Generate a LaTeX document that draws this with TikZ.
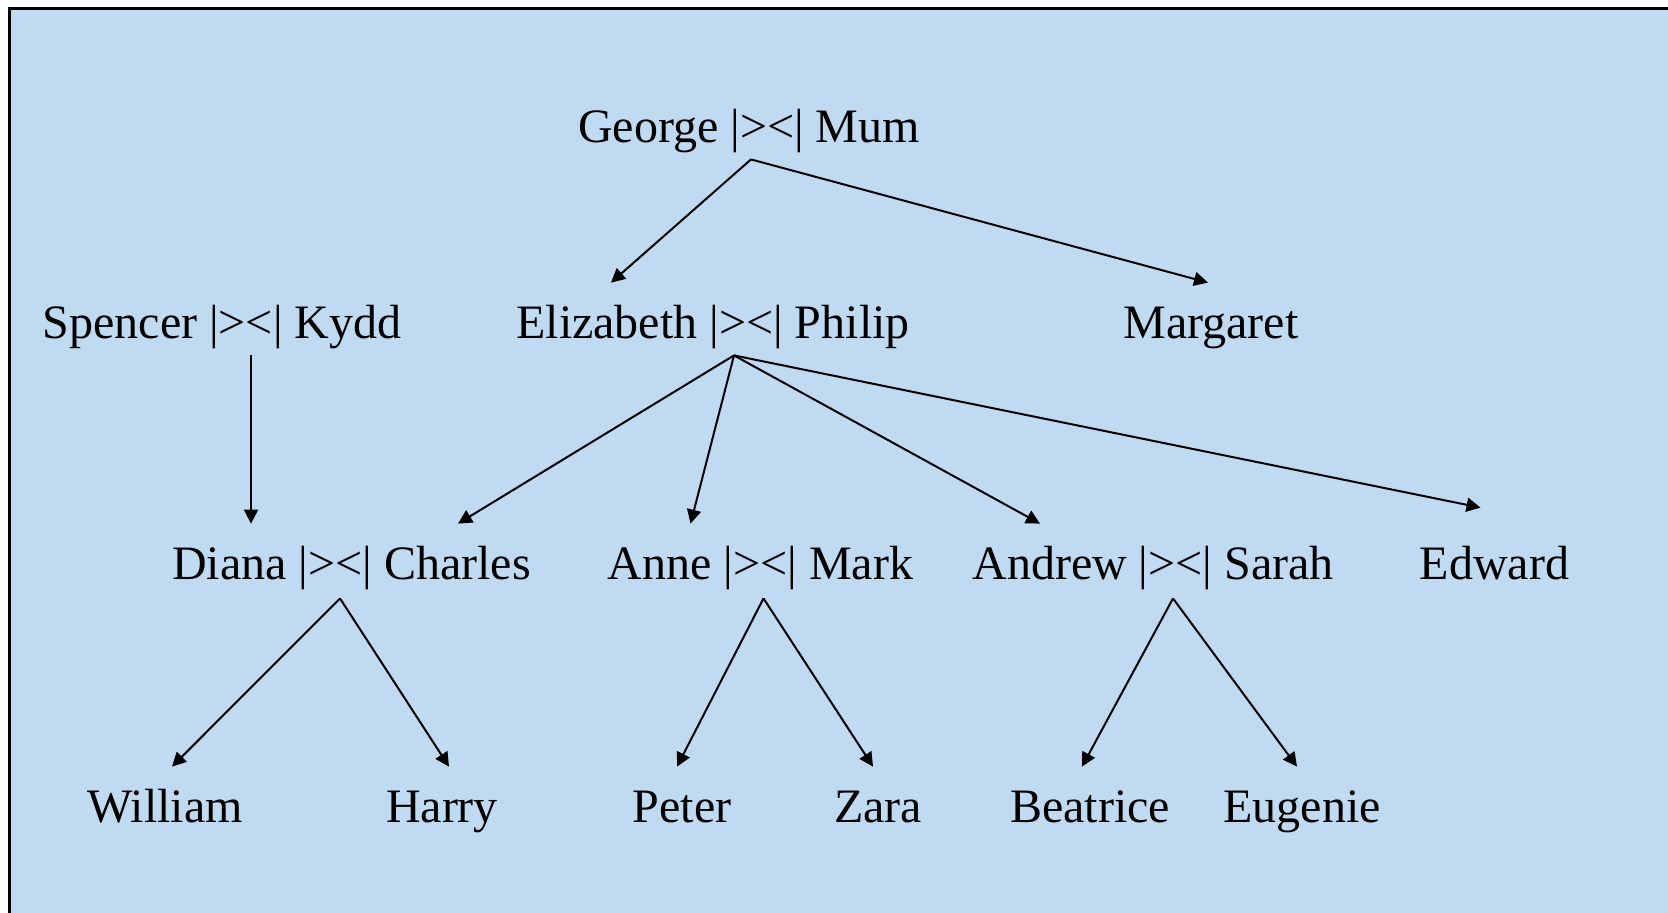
\documentclass[tikz,border=0pt]{standalone}
\usepackage{fontspec}
\setmainfont{Liberation Serif}
\usetikzlibrary{arrows.meta}

\definecolor{panelblue}{RGB}{192,218,242}

\begin{document}
\begin{tikzpicture}[
    x=0.5pt, y=-0.5pt,
    person/.style={inner sep=0pt, anchor=base, text height=27.5pt, text depth=8.5pt, font=\fontsize{24}{28}\selectfont},
    arrow/.style={-{Triangle[length=7pt, width=7pt]}, line width=1pt}
]
\useasboundingbox (0,0) rectangle (1668,912);
\clip (0,0) rectangle (1668,912);
\draw[line width=1.5pt, fill=panelblue] (9,8) rectangle (1700,950);

% generations
\node[person] (george) at (749,142) {George |><| Mum};

\node[person] (spencer) at (222,338) {Spencer |><| Kydd};
\node[person] (elizabeth) at (713,338) {Elizabeth |><| Philip};
\node[person] (margaret) at (1211,338) {Margaret};

\node[person] (diana) at (351.5,579) {Diana |><| Charles};
\node[person] (anne) at (760.5,579) {Anne |><| Mark};
\node[person] (andrew) at (1153,579) {Andrew |><| Sarah};
\node[person] (edward) at (1494.5,579) {Edward};

\node[person] (william) at (165,822) {William};
\node[person] (harry) at (442,822) {Harry};
\node[person] (peter) at (682,822) {Peter};
\node[person] (zara) at (878,822) {Zara};
\node[person] (beatrice) at (1090,822) {Beatrice};
\node[person] (eugenie) at (1302,822) {Eugenie};

% descent
\draw[arrow] ([xshift=1pt]george.south) -- ([xshift=-51pt]elizabeth.north);
\draw[arrow] ([xshift=1pt]george.south) -- ([xshift=-1.5pt]margaret.north);

\draw[arrow] ([xshift=14.5pt]spencer.south) -- ([xshift=-50.25pt]diana.north);

\draw[arrow] ([xshift=10.5pt]elizabeth.south) -- ([xshift=53.25pt]diana.north);
\draw[arrow] ([xshift=10.5pt]elizabeth.south) -- ([xshift=-35pt]anne.north);
\draw[arrow] ([xshift=10.5pt]elizabeth.south) -- ([xshift=-56.5pt]andrew.north);
\draw[arrow] ([xshift=10.5pt]elizabeth.south) -- ([xshift=-7pt, yshift=8pt]edward.north);

\draw[arrow] ([xshift=-5.75pt, yshift=-1pt]diana.south) -- ([xshift=3.5pt]william.north);
\draw[arrow] ([xshift=-5.75pt, yshift=-1pt]diana.south) -- ([xshift=3.5pt]harry.north);
\draw[arrow] ([xshift=1.5pt, yshift=-1pt]anne.south) -- ([xshift=-2.5pt]peter.north);
\draw[arrow] ([xshift=1.5pt, yshift=-1pt]anne.south) -- ([xshift=-2.5pt]zara.north);
\draw[arrow] ([xshift=10pt, yshift=-1pt]andrew.south) -- ([xshift=-4pt]beatrice.north);
\draw[arrow] ([xshift=10pt, yshift=-1pt]andrew.south) -- ([xshift=-2.5pt]eugenie.north);
\end{tikzpicture}
\end{document}
